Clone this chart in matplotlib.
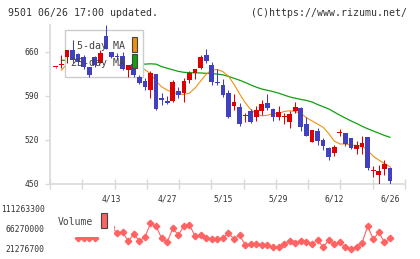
import numpy as np
import matplotlib
matplotlib.use("Agg")
import matplotlib.pyplot as plt
from matplotlib.patches import Rectangle

W, H = 420, 259

# daily candles (price)
opens = [635, 639, 650.5, 662, 655.7, 651.5, 635.6, 650.5, 642, 684.2,
         659.4, 652.5, 652.5, 630.4, 640, 620, 613.5, 598.7, 624, 586.5,
         581.8, 581.3, 597.2, 594.5, 614.6, 626.1, 633.1, 654.1, 638.3, 610.3,
         606.7, 594.5, 573.4, 571.4, 558, 566, 556.5, 566, 577.7, 568.2,
         556.5, 556.5, 548.6, 566, 569.8, 544.9, 517, 533.8, 519.6, 507.4,
         499.5, 530.2, 531.1, 523.2, 505.3, 509, 524.8, 470.5, 464.2, 473.2,
         474.8]
highs = [636, 654, 662, 678, 657.8, 654, 636, 652.5, 662, 702,
         660, 657.8, 659.4, 638.3, 645, 622.5, 617.3, 628.8, 624, 593.5,
         589.2, 614.6, 604, 617.3, 629.3, 632, 654.1, 663.2, 643.5, 631.5,
         615.7, 598.7, 592.4, 577.7, 562, 568.2, 573.4, 583, 592.4, 569.8,
         573.4, 561.9, 566, 580.2, 571.4, 556.5, 535.4, 538.1, 522.3, 509,
         511.7, 536.5, 531.1, 523.2, 518, 526, 524.8, 478.4, 480, 488,
         477.3]
lows = [634, 633.5, 642, 642, 638.3, 633, 619.8, 634.7, 642, 664.7,
        650, 647.3, 630.4, 619.8, 620, 608, 598.7, 585.6, 568, 575,
        576.5, 580.2, 585.6, 580.2, 609.3, 615.7, 631.5, 641, 606.7, 606.7,
        587.2, 554, 567, 541.7, 548.6, 547, 550.2, 559.2, 567, 550.2,
        551.3, 544.4, 538.1, 562.8, 534.3, 526.4, 517, 511.7, 503.8, 488,
        494.3, 526, 510.1, 505, 497.4, 497.4, 472, 461.5, 448.8, 464.2,
        448.8]
closes = [635, 639, 662, 647.3, 643.5, 635.6, 622.5, 638.3, 657.8, 664.7,
          650.5, 652, 631.5, 638.3, 622.5, 610.4, 603, 626.1, 568.2, 583,
          578.6, 611.9, 590.8, 613.5, 625.2, 632, 651.5, 645.1, 611.9, 609.8,
          590.8, 556.5, 580.2, 544.9, 558, 548.6, 567, 576.6, 569.8, 556.5,
          563.4, 556.5, 560.8, 571.4, 540.6, 526.4, 535.4, 518.5, 510.1, 493.2,
          508.9, 530.2, 512.8, 506.4, 511.7, 515.3, 474.8, 470.5, 471, 481.2,
          455.2]

ma5 = [np.nan, 630.4, 640, 645, 647, 645, 640, 637, 640, 646,
       647, 653, 651, 646, 640, 636, 631, 625, 613, 604,
       599, 595, 592.4, 592, 594, 602, 613, 624, 631, 631.5,
       628, 621, 608, 593, 579, 568, 561, 558, 559, 561.5,
       562, 565, 566, 565, 562, 555, 550, 545, 540, 530,
       518, 513.5, 513.3, 512, 511, 510.5, 503, 494, 488, 482.5,
       477.3]
ma25 = [np.nan, 646, 646, 646, 645.5, 645, 644.5, 644, 643.5, 643,
        643, 642.5, 642, 641.5, 641, 640.5, 640, 640.5, 640, 636,
        633.5, 631, 628.5, 627, 626.5, 626.2, 626, 625.4, 625, 624.2,
        623, 620.5, 617.5, 614.5, 611, 607, 603.5, 600.5, 598.5, 596.5,
        594, 591, 588, 586, 584, 582.5, 580, 576, 572.5, 569,
        564, 559, 554.5, 550, 546, 541.5, 537.5, 534, 530.5, 527,
        524]

volume = [70e6, 70e6, 70e6, 70e6, 47e6, 47e6, 47e6, 47e6, 70e6, 70e6,
          70e6, 57.95e6, 58.85e6, 39.27e6, 54.35e6, 39.95e6, 47.6e6, 79.1e6, 73e6, 45.35e6,
          36.35e6, 67.85e6, 52.8e6, 73e6, 75.3e6, 50.5e6, 52.8e6, 45.35e6, 43.1e6, 43.1e6,
          45.35e6, 57.95e6, 43.1e6, 52.8e6, 30.3e6, 32.5e6, 32.5e6, 30.3e6, 30.3e6, 25.1e6,
          25.1e6, 32.5e6, 39.95e6, 34.1e6, 39.95e6, 36.35e6, 31.85e6, 41.5e6, 25.1e6, 41.5e6,
          32.5e6, 36.35e6, 25.1e6, 21.3e6, 26.45e6, 35.5e6, 73e6, 43.1e6, 58.85e6, 36.35e6,
          45.35e6]

date_pos = [10, 20, 30, 40, 50, 60]
date_labels = ['4/13', '4/27', '5/15', '5/29', '6/12', '6/26']
price_ticks = [450, 520, 590, 660]
vol_ticks = [21276700, 66270000, 111263300]

RED = '#dd0000'
BLUE = '#4040c0'
ORANGE = '#f0900f'
GREEN = '#10a010'
VOLC = '#ff6262'
GRID = '#d9d9d9'
TXT = '#333333'
MONO = 'DejaVu Sans Mono'


def fx(x):
    return x / W


def fy(y):
    return 1 - y / H


fig = plt.figure(figsize=(W / 100, H / 100), dpi=100)

# price panel
ax = fig.add_axes([fx(50), fy(184), 355 / W, 159 / H])
idx = np.arange(len(opens))
o = np.array(opens)
c = np.array(closes)
col = np.where(c >= o, RED, BLUE)
ax.vlines(idx, lows, highs, colors=col, lw=0.75, zorder=3)
ax.bar(idx, np.maximum(np.abs(c - o), 1.6), bottom=np.minimum(o, c),
       width=0.85, color=col, linewidth=0, zorder=3)
ax.plot(idx, ma25, color=GREEN, lw=0.9, zorder=2)
ax.plot(idx, ma5, color=ORANGE, lw=0.8, zorder=2)

ax.set_xlim(-1.04, 62.7)
ax.set_ylim(450, 702)
for s in ['top', 'right']:
    ax.spines[s].set_visible(False)
for s in ['left', 'bottom']:
    ax.spines[s].set_color(GRID)
    ax.spines[s].set_linewidth(1.2)
ax.set_yticks(price_ticks, [str(v) for v in price_ticks])
ax.tick_params(axis='y', length=3.6, width=1, color=GRID, pad=4,
               labelsize=5.8, labelcolor=TXT)
ax.set_xticks(date_pos, date_labels)
ax.set_xticks(np.linspace(-1.04, 62.7, 12), minor=True)
ax.tick_params(axis='x', which='major', length=0, pad=7.5,
               labelsize=5.8, labelcolor=TXT)
ax.tick_params(axis='x', which='minor', length=6.5, width=1, color=GRID,
               direction='inout')
for lab in ax.get_xticklabels() + ax.get_yticklabels():
    lab.set_family(MONO)

# MA legend box (lines hidden under it, candles drawn over it)
ax.add_patch(Rectangle((fx(65), fy(77.3)), (143.3 - 65) / W, (77.3 - 30) / H,
                       transform=fig.transFigure, fc='white', ec='#cccccc',
                       lw=1, zorder=2.5))
ax.text(fx(125), fy(45.7), '5-day MA', transform=fig.transFigure, ha='right',
        va='center', family=MONO, size=7.2, color='#444444', zorder=4)
ax.text(fx(125), fy(63.3), '25-day MA', transform=fig.transFigure, ha='right',
        va='center', family=MONO, size=7.2, color='#444444', zorder=4)
ax.add_patch(Rectangle((fx(131.7), fy(52.3)), 5.6 / W, 15 / H,
                       transform=fig.transFigure, fc=ORANGE, ec='#444444',
                       lw=0.8, zorder=4))
ax.add_patch(Rectangle((fx(131.7), fy(68.3)), 5.6 / W, 14 / H,
                       transform=fig.transFigure, fc=GREEN, ec='#444444',
                       lw=0.8, zorder=4))

# volume panel
axv = fig.add_axes([fx(50), fy(249), 355 / W, 40 / H])
axv.plot(idx, volume, color=VOLC, lw=0.8, marker='D', ms=3.3, mec=VOLC,
         mfc=VOLC, clip_on=False, zorder=2)
axv.set_xlim(-1.04, 62.7)
axv.set_ylim(vol_ticks[0], vol_ticks[-1])
for s in axv.spines.values():
    s.set_visible(False)
axv.set_xticks([])
axv.set_yticks(vol_ticks, [str(v) for v in vol_ticks])
axv.tick_params(axis='y', length=0, pad=4, labelsize=5.8, labelcolor=TXT)
for lab in axv.get_yticklabels():
    lab.set_family(MONO)
axv.add_patch(Rectangle((fx(50), fy(237)), 64 / W, 30 / H,
                        transform=fig.transFigure, fc='white', ec='none',
                        clip_on=False, zorder=5))
axv.text(fx(58), fy(222.3), 'Volume', transform=fig.transFigure, ha='left',
         va='center', family=MONO, size=7, color='#444444', zorder=6)
axv.add_patch(Rectangle((fx(101), fy(228.3)), 6 / W, 15 / H,
                        transform=fig.transFigure, fc=VOLC, ec='#444444',
                        lw=0.8, clip_on=False, zorder=6))

fig.text(fx(8), fy(12.7), '9501 06/26 17:00 updated.', ha='left', va='center',
         family=MONO, size=7.1, color=TXT)
fig.text(fx(407), fy(12.7), '(C)https://www.rizumu.net/', ha='right',
         va='center', family=MONO, size=7.1, color=TXT)

fig.savefig('out.png', dpi=100, facecolor='white')
